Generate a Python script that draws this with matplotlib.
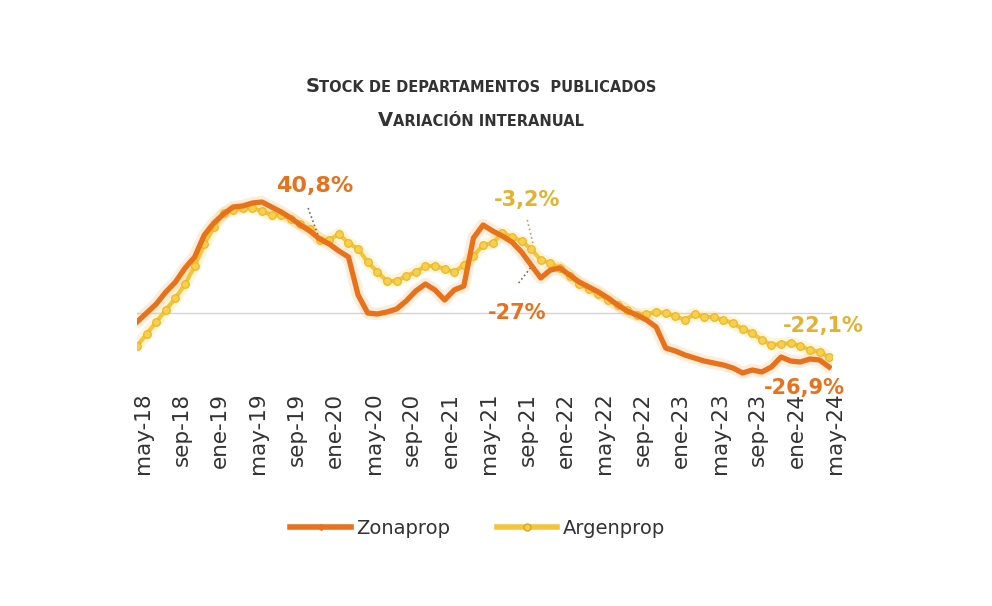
import numpy as np
import matplotlib
matplotlib.use("Agg")
import matplotlib.pyplot as plt
import matplotlib.transforms as mtransforms
from matplotlib.lines import Line2D
from matplotlib.offsetbox import TextArea, HPacker, AnnotationBbox

# Serie mensual may-18 .. may-24 (variacion interanual, %)
meses = ['may', 'jun', 'jul', 'ago', 'sep', 'oct', 'nov', 'dic', 'ene', 'feb', 'mar', 'abr']
fechas = [f"{meses[i % 12]}-{18 + (i + 4) // 12}" for i in range(73)]

zonaprop = [-4.5, 0, 4.5, 10.5, 15.5, 22.5, 28, 39, 45, 49.5, 53, 53.5,
            55, 55.5, 53, 50.5, 47.5, 44, 41, 37, 34.5, 31, 28, 9,
            0, -0.5, 0.5, 2, 6, 11, 14.5, 11.5, 6.5, 11.5, 13.5, 37.5,
            44, 41, 38.5, 35.5, 30.5, 24, 17.5, 21.5, 22.5, 19, 15.5, 13,
            10.5, 7.5, 4, 1, -1, -3.5, -7, -17.5, -19, -21, -22.5, -24,
            -25, -26, -27.5, -30, -28.5, -29.5, -27, -22, -24, -24.5, -23, -23.5,
            -27]

argenprop = [-16.5, -10.5, -4.5, 1.5, 7.5, 14.5, 23.5, 34.5, 43, 50, 51.5, 52.5,
             52.5, 51, 49, 49, 47, 44.5, 42, 36.5, 36.5, 39.5, 35, 32,
             25.5, 20.5, 16, 16, 18.5, 20.5, 23.5, 23.5, 22, 20.5, 24, 28.5,
             34, 35, 40, 38, 36, 32, 26.5, 25, 22.5, 18.5, 14.5, 12,
             9.5, 6.5, 4, 1.5, -1, -0.5, 0.5, 0, -1.5, -3.5, -0.5, -2,
             -2, -3.5, -5, -8, -10, -13.5, -16, -15.5, -15, -16.5, -18.5, -19.5,
             -22]

tick_idx = list(range(0, 73, 4))
tick_labels = [fechas[i] for i in tick_idx]

c_zona = '#E8711C'
c_argen = '#F4C53A'
c_argen_txt = '#E3B232'
c_txt = '#333333'

fig = plt.figure(figsize=(9.92, 6.06), dpi=100)
ax = fig.add_axes([137 / 992, 1 - 380 / 606, 695 / 992, 200 / 606])

x = np.arange(len(fechas))

ax.axhline(0, color='#d4d4d4', lw=1, zorder=1)

# halo suave alrededor de las lineas
ax.plot(x, argenprop, color='#F8D45A', lw=9, alpha=0.22, solid_capstyle='round', zorder=2)
ax.plot(x, zonaprop, color='#F6A040', lw=9, alpha=0.18, solid_capstyle='round', zorder=2)

ax.plot(x, argenprop, color=c_argen, lw=3, marker='o', ms=5.5,
        mfc='#F7CF4A', mec='#E9B526', mew=0.8, zorder=3)
ax.plot(x, zonaprop, color=c_zona, lw=3.8, solid_joinstyle='round', zorder=4)

ax.set_xlim(0, 72.3)
ax.set_ylim(-33.5, 66.5)
ax.set_xticks(tick_idx)
ax.set_xticklabels(tick_labels, rotation=90, fontsize=15.5, color=c_txt)
ax.tick_params(axis='x', length=0, pad=9)
desplazamiento = mtransforms.ScaledTranslation(6 / 100, 0, fig.dpi_scale_trans)
for lbl in ax.get_xticklabels():
    lbl.set_transform(lbl.get_transform() + desplazamiento)
ax.set_yticks([])
for s in ax.spines.values():
    s.set_visible(False)

# etiquetas
ax.text(18.5, 63.5, '40,8%', color=c_zona, fontsize=16, fontweight='bold', ha='center', va='center')
ax.plot([17.8, 18.9], [52.5, 38], ls=':', color='#7a6a5a', lw=1.2)
ax.text(40.6, 56.5, '-3,2%', color=c_argen_txt, fontsize=15, fontweight='bold', ha='center', va='center')
ax.plot([40.6, 41.2], [46.5, 34.5], ls=':', color='#b8a070', lw=1.2)
ax.text(39.5, 0, '-27%', color=c_zona, fontsize=15, fontweight='bold', ha='center', va='center')
ax.plot([39.7, 41], [15, 23], ls=':', color='#7a6a5a', lw=1.2)
ax.text(71.4, -6.5, '-22,1%', color=c_argen_txt, fontsize=15, fontweight='bold', ha='center', va='center',
        clip_on=False)
ax.text(69.4, -37.5, '-26,9%', color=c_zona, fontsize=15, fontweight='bold', ha='center', va='center',
        clip_on=False)

# titulo en versalitas
def versalitas(big, small):
    return HPacker(children=[TextArea(big, textprops=dict(size=14, weight='bold', color=c_txt)),
                             TextArea(small, textprops=dict(size=10.5, weight='bold', color=c_txt))],
                   align='baseline', pad=0, sep=0)

for texto, ypx in [(('S', 'TOCK DE DEPARTAMENTOS  PUBLICADOS'), 86),
                   (('V', 'ARIACIÓN INTERANUAL'), 120)]:
    ab = AnnotationBbox(versalitas(*texto), (481 / 992, 1 - ypx / 606), xycoords='figure fraction',
                        frameon=False, box_alignment=(0.5, 0.5))
    fig.add_artist(ab)

handles = [Line2D([], [], color=c_zona, lw=4, marker='D', ms=3),
           Line2D([], [], color=c_argen, lw=4, marker='o', ms=5, mfc='#F7CF4A', mec='#D9A51E')]
fig.legend(handles, ['Zonaprop', 'Argenprop'], loc='center', ncol=2,
           bbox_to_anchor=(478 / 992, 1 - 528 / 606), frameon=False, fontsize=14,
           handlelength=3.1, columnspacing=2.4, handletextpad=0.3, labelcolor=c_txt)

fig.savefig('out.png', dpi=100, facecolor='white')
